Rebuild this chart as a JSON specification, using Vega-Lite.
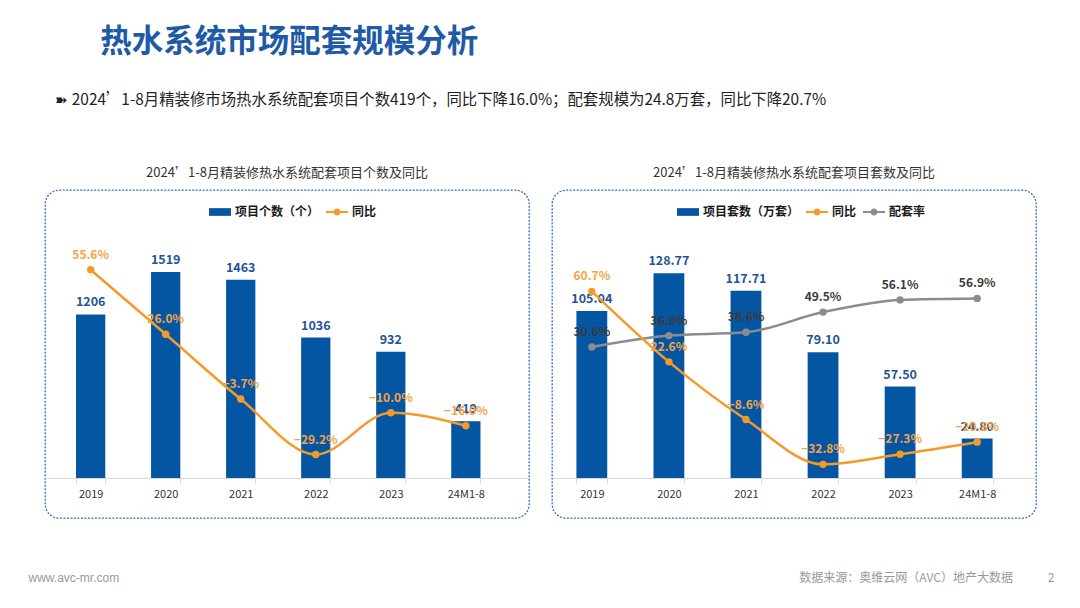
{
  "$schema": "https://vega.github.io/schema/vega-lite/v6.json",
  "background": "white",
  "padding": {"left": 27, "top": 27, "right": 0, "bottom": 0},
  "config": {
    "font": "Noto Sans CJK SC",
    "view": {"stroke": "#2f6fb8", "strokeWidth": 1.3, "strokeDash": [2, 1.5], "cornerRadius": 14},
    "axisX": {"domainColor": "#d9d9d9", "tickColor": "#d9d9d9", "tickSize": 5, "tickBand": "extent", "labelAngle": 0, "labelFontSize": 11, "labelColor": "#333333", "labelPadding": 5, "grid": false, "labelFont": "Noto Sans CJK SC"},
    "legend": {"orient": "none", "direction": "horizontal", "labelFont": "Noto Sans CJK SC", "labelFontSize": 12, "labelFontWeight": "bold", "labelColor": "#1a1a1a", "symbolSize": 484, "columnPadding": 6, "labelOffset": 4, "title": null}
  },
  "title": {"text": "热水系统市场配套规模分析", "anchor": "start", "dx": 73, "fontSize": 31.5, "fontWeight": "bold", "color": "#1F5AA6", "offset": 34, "font": "Noto Sans CJK SC"},
  "vconcat": [
    {
      "title": {"text": "➽  2024’1-8月精装修市场热水系统配套项目个数419个，同比下降16.0%；配套规模为24.8万套，同比下降20.7%", "anchor": "start", "dx": 28, "fontSize": 15.4, "fontWeight": "normal", "color": "#222222", "offset": 58, "font": "Noto Sans CJK SC"},
      "spacing": 21,
      "resolve": {"scale": {"color": "independent"}, "legend": {"color": "independent"}},
      "hconcat": [
        {
          "width": 484,
          "height": 328,
          "title": {"text": "2024’1-8月精装修热水系统配套项目个数及同比", "fontSize": 13, "fontWeight": "normal", "color": "#333333", "anchor": "middle", "offset": 10},
          "data": {"values": [
            {"year": "2019", "count": 1206, "yoy": 0.556},
            {"year": "2020", "count": 1519, "yoy": 0.260},
            {"year": "2021", "count": 1463, "yoy": -0.037},
            {"year": "2022", "count": 1036, "yoy": -0.292},
            {"year": "2023", "count": 932, "yoy": -0.100},
            {"year": "24M1-8", "count": 419, "yoy": -0.160}
          ]},
          "encoding": {
            "x": {"field": "year", "type": "ordinal", "sort": null,
              "scale": {"paddingInner": 0.61, "paddingOuter": 0.53, "align": 0.39},
              "axis": {"offset": -40, "title": "www.avc-mr.com", "titleX": -17, "titleY": 99, "titleAlign": "left", "titleBaseline": "middle", "titleColor": "#999999", "titleFontSize": 12, "titleFontWeight": "normal", "titleFont": "Liberation Sans"}}
          },
          "layer": [
            {
              "layer": [
                {"mark": {"type": "bar", "color": "#0556A2"},
                 "encoding": {
                   "y": {"field": "count", "type": "quantitative", "scale": {"domain": [-295, 2124]}, "axis": null},
                   "color": {"datum": "项目个数（个）", "scale": {"domain": ["项目个数（个）", "同比"], "range": ["#0556A2", "#F39A2B"]},
                     "legend": {"legendX": 164, "legendY": 11, "encode": {"symbols": {"update": {
                       "shape": {"signal": "datum.value === '同比' ? 'M-1,-0.09H1V0.09H-1ZM0.32,0A0.32,0.32 0 1,1 -0.32,0A0.32,0.32 0 1,1 0.32,0Z' : 'M-1,-0.35H1V0.35H-1Z'"},
                       "fill": {"signal": "datum.value === '同比' ? '#F39A2B' : '#0556A2'"},
                       "strokeWidth": {"value": 0}}}}}}
                 }},
                {"mark": {"type": "text", "baseline": "bottom", "dy": -5, "fontSize": 12.5, "fontWeight": "bold", "color": "#1F5597"},
                 "encoding": {
                   "y": {"field": "count", "type": "quantitative", "scale": {"domain": [-295, 2124]}, "axis": null},
                   "text": {"field": "count", "type": "quantitative", "format": "d"}
                 }}
              ]
            },
            {
              "layer": [
                {"mark": {"type": "line", "interpolate": "monotone", "strokeWidth": 2.5, "point": {"filled": true, "size": 55}},
                 "encoding": {
                   "y": {"field": "yoy", "type": "quantitative", "scale": {"domain": [-0.583, 0.922]}, "axis": null},
                   "color": {"datum": "同比"}
                 }},
                {"mark": {"type": "text", "baseline": "bottom", "dy": -8, "fontSize": 12, "fontWeight": "bold", "color": "#F5A345"},
                 "encoding": {
                   "y": {"field": "yoy", "type": "quantitative", "scale": {"domain": [-0.583, 0.922]}, "axis": null},
                   "text": {"field": "yoy", "type": "quantitative", "format": ".1%"}
                 }}
              ]
            }
          ],
          "resolve": {"scale": {"y": "independent"}}
        },
        {
          "width": 484,
          "height": 328,
          "title": {"text": "2024’1-8月精装修热水系统配套项目套数及同比", "fontSize": 13, "fontWeight": "normal", "color": "#333333", "anchor": "middle", "offset": 10},
          "data": {"values": [
            {"year": "2019", "sets": 105.04, "yoy": 0.607, "rate": 0.306},
            {"year": "2020", "sets": 128.77, "yoy": 0.226, "rate": 0.368},
            {"year": "2021", "sets": 117.71, "yoy": -0.086, "rate": 0.386},
            {"year": "2022", "sets": 79.10, "yoy": -0.328, "rate": 0.495},
            {"year": "2023", "sets": 57.50, "yoy": -0.273, "rate": 0.561},
            {"year": "24M1-8", "sets": 24.80, "yoy": -0.208, "rate": 0.569}
          ]},
          "encoding": {
            "x": {"field": "year", "type": "ordinal", "sort": null,
              "scale": {"paddingInner": 0.6, "paddingOuter": 0.44, "align": 0.36},
              "axis": {"offset": -40, "title": "数据来源：奥维云网（AVC）地产大数据\u00a0\u00a0\u00a0\u00a0\u00a0\u00a0\u00a0\u00a0\u00a0\u00a0\u00a0\u00a0\u00a02", "titleX": 502, "titleY": 99, "titleAlign": "right", "titleBaseline": "middle", "titleColor": "#999999", "titleFontSize": 12, "titleFontWeight": "normal"}}
          },
          "layer": [
            {
              "layer": [
                {"mark": {"type": "bar", "color": "#0556A2"},
                 "encoding": {
                   "y": {"field": "sets", "type": "quantitative", "scale": {"domain": [-25.2, 181.1]}, "axis": null},
                   "color": {"datum": "项目套数（万套）", "scale": {"domain": ["项目套数（万套）", "同比", "配套率"], "range": ["#0556A2", "#F39A2B", "#8C8C8C"]},
                     "legend": {"legendX": 125, "legendY": 11, "encode": {"symbols": {"update": {
                       "shape": {"signal": "datum.value === '项目套数（万套）' ? 'M-1,-0.35H1V0.35H-1Z' : 'M-1,-0.09H1V0.09H-1ZM0.32,0A0.32,0.32 0 1,1 -0.32,0A0.32,0.32 0 1,1 0.32,0Z'"},
                       "fill": {"signal": "datum.value === '同比' ? '#F39A2B' : datum.value === '配套率' ? '#8C8C8C' : '#0556A2'"},
                       "strokeWidth": {"value": 0}}}}}}
                 }},
                {"mark": {"type": "text", "baseline": "bottom", "dy": -5, "fontSize": 12.5, "fontWeight": "bold", "color": "#1F5597"},
                 "encoding": {
                   "y": {"field": "sets", "type": "quantitative", "scale": {"domain": [-25.2, 181.1]}, "axis": null},
                   "text": {"field": "sets", "type": "quantitative", "format": ".2f"}
                 }}
              ]
            },
            {
              "layer": [
                {"mark": {"type": "line", "interpolate": "monotone", "strokeWidth": 2.5, "point": {"filled": true, "size": 55}},
                 "encoding": {
                   "y": {"field": "rate", "type": "quantitative", "scale": {"domain": [-0.618, 1.155]}, "axis": null},
                   "color": {"datum": "配套率"}
                 }},
                {"mark": {"type": "text", "baseline": "bottom", "dy": -8, "fontSize": 12, "fontWeight": "bold", "color": "#3a3a3a"},
                 "encoding": {
                   "y": {"field": "rate", "type": "quantitative", "scale": {"domain": [-0.618, 1.155]}, "axis": null},
                   "text": {"field": "rate", "type": "quantitative", "format": ".1%"}
                 }},
                {"mark": {"type": "line", "interpolate": "monotone", "strokeWidth": 2.5, "point": {"filled": true, "size": 55}},
                 "encoding": {
                   "y": {"field": "yoy", "type": "quantitative", "scale": {"domain": [-0.618, 1.155]}, "axis": null},
                   "color": {"datum": "同比"}
                 }},
                {"mark": {"type": "text", "baseline": "bottom", "dy": -8, "fontSize": 12, "fontWeight": "bold", "color": "#F5A345"},
                 "encoding": {
                   "y": {"field": "yoy", "type": "quantitative", "scale": {"domain": [-0.618, 1.155]}, "axis": null},
                   "text": {"field": "yoy", "type": "quantitative", "format": ".1%"}
                 }}
              ]
            }
          ],
          "resolve": {"scale": {"y": "independent"}}
        }
      ]
    }
  ]
}
